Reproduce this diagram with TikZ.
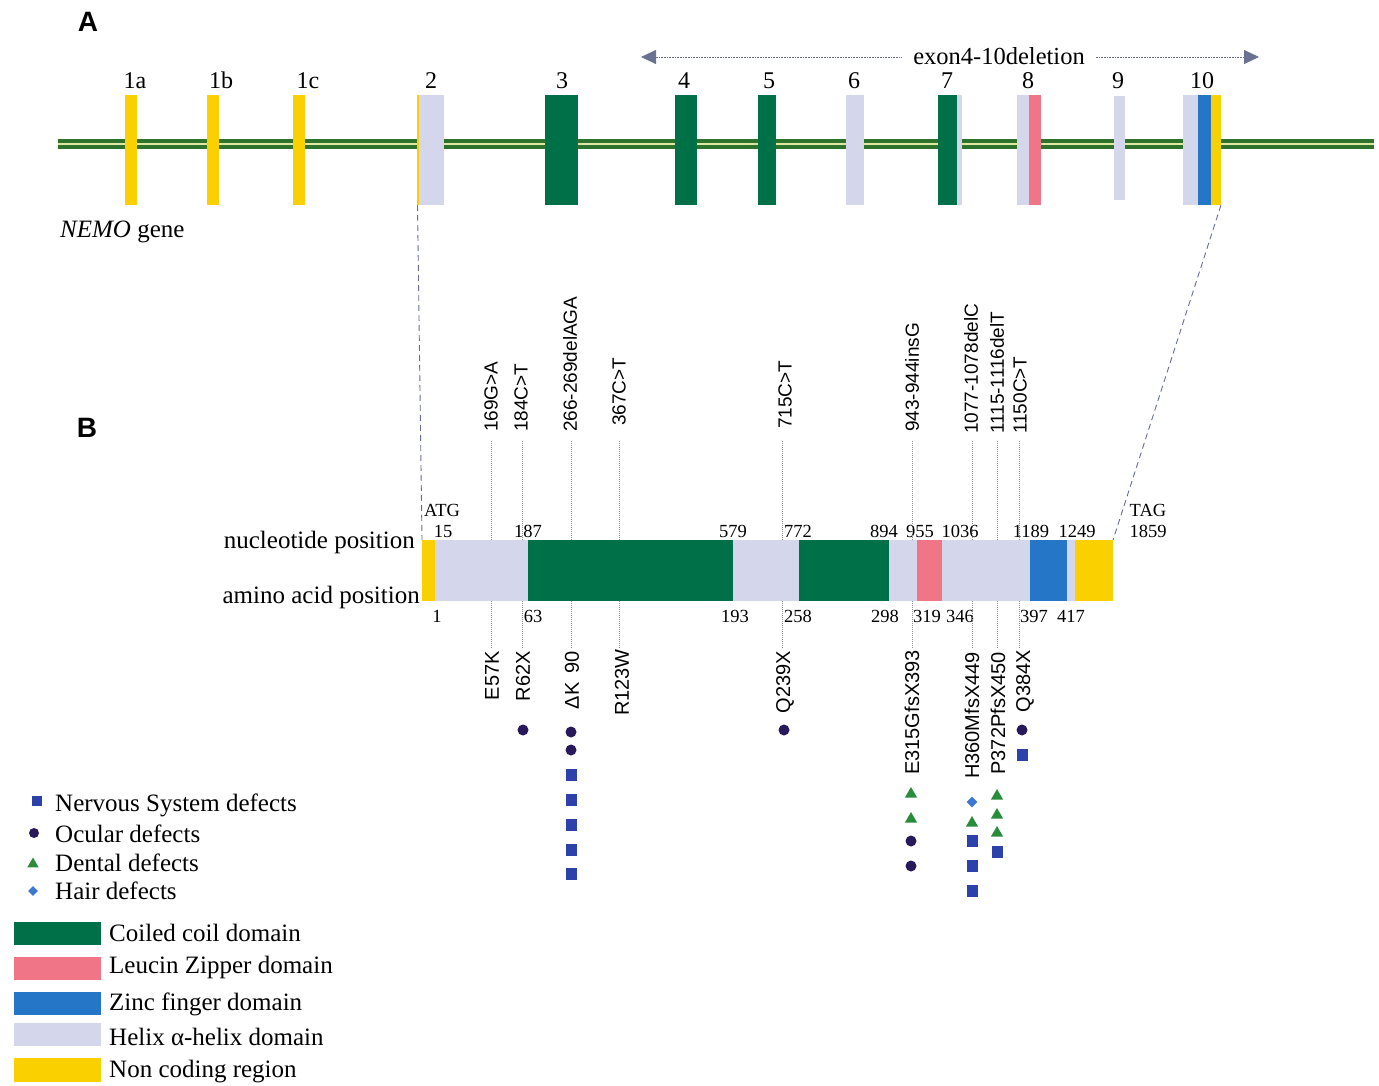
\documentclass[tikz,border=0pt]{standalone}
\usepackage{fontspec}
\setmainfont{Liberation Serif}
\setsansfont{Liberation Sans}
\usetikzlibrary{shapes.geometric,arrows.meta}

\definecolor{ncyellow}{RGB}{250,208,0}
\definecolor{helix}{RGB}{212,214,236}
\definecolor{coil}{RGB}{0,112,72}
\definecolor{zipper}{RGB}{240,118,135}
\definecolor{zinc}{RGB}{38,118,200}
\definecolor{geneline}{RGB}{45,115,45}
\definecolor{genemid}{RGB}{225,232,160}
\definecolor{arrowc}{RGB}{105,115,145}
\definecolor{dashc}{RGB}{100,108,160}
\definecolor{ocular}{RGB}{40,25,90}
\definecolor{nerve}{RGB}{45,65,170}
\definecolor{dental}{RGB}{40,140,60}
\definecolor{hair}{RGB}{60,120,210}
\definecolor{dotc}{RGB}{140,140,140}

\begin{document}
\begin{tikzpicture}[x=1pt,y=-1pt,
  box/.style={fill=#1,draw=none,inner sep=0pt,outer sep=0pt,rectangle},
  exon/.style={box=#1,minimum height=110pt},
  pseg/.style={box=#1,minimum height=61pt},
  serif/.style={font=\fontsize{25}{30}\selectfont,inner sep=0pt},
  exlab/.style={font=\fontsize{24}{28}\selectfont,inner sep=0pt,anchor=base},
  numlbl/.style={font=\fontsize{18.5}{22}\selectfont,inner sep=0pt,anchor=base},
  toplab/.style={font=\sffamily\fontsize{19}{23}\selectfont,rotate=90,anchor=west,inner sep=0pt},
  botlab/.style={font=\sffamily\fontsize{20}{24}\selectfont,rotate=90,anchor=east,inner sep=0pt},
  mutline/.style={draw=dotc,line width=0.6pt,dash pattern=on 1pt off 1pt},
  projline/.style={draw=dashc,line width=0.9pt,dash pattern=on 6pt off 4pt},
  circ/.style={circle,fill=ocular,minimum width=11pt,minimum height=11pt,inner sep=0pt},
  sqr/.style={rectangle,fill=nerve,minimum width=11pt,minimum height=12pt,inner sep=0pt},
  tri/.style={regular polygon,regular polygon sides=3,fill=dental,minimum size=14pt,inner sep=0pt},
  dia/.style={diamond,fill=hair,minimum size=11pt,inner sep=0pt},
  panel/.style={font=\sffamily\bfseries\fontsize{28}{32}\selectfont,inner sep=0pt},
  legtext/.style={font=\fontsize{25}{30}\selectfont,inner sep=0pt,anchor=west}
]
\useasboundingbox (0,0) rectangle (1379,1086);

% panel letters
\node[panel] (pA) at (88,22) {A};
\node[panel] (pB) at (87,428) {B};

% gene line
\coordinate (gl) at (58,144);
\coordinate (gr) at (1374,144);
\draw[geneline,line width=10pt] (gl) -- (gr);
\draw[genemid,line width=1.3pt] (gl) -- (gr);

% exons
\node[exon=ncyellow,minimum width=12pt] (e1a) at (131,150) {};
\node[exon=ncyellow,minimum width=12pt] (e1b) at (213,150) {};
\node[exon=ncyellow,minimum width=12pt] (e1c) at (299,150) {};
\node[exon=ncyellow,minimum width=2pt] (e2y) at (417.5,150) {};
\node[exon=helix,minimum width=25pt] (e2) at (431,150) {};
\node[exon=coil,minimum width=33pt] (e3) at (561,150) {};
\node[exon=coil,minimum width=22pt] (e4) at (685.5,150) {};
\node[exon=coil,minimum width=18pt] (e5) at (767,150) {};
\node[exon=helix,minimum width=18pt] (e6) at (855,150) {};
\node[exon=coil,minimum width=19pt] (e7) at (947,150) {};
\node[exon=helix,minimum width=5pt] (e7b) at (959,150) {};
\node[exon=helix,minimum width=12pt] (e8) at (1023,150) {};
\node[exon=zipper,minimum width=12pt] (e8b) at (1035,150) {};
\node[box=helix,minimum width=11pt,minimum height=104pt] (e9) at (1119,148) {};
\node[exon=helix,minimum width=15pt] (e10) at (1190.5,150) {};
\node[exon=zinc,minimum width=13pt] (e10b) at (1204.5,150) {};
\node[exon=ncyellow,minimum width=10pt] (e10c) at (1216,150) {};

% exon labels
\node[exlab] (l1a) at (135,89) {1a};
\node[exlab] (l1b) at (221,89) {1b};
\node[exlab] (l1c) at (308,89) {1c};
\node[exlab] (l2) at (431,89) {2};
\node[exlab] (l3) at (562,89) {3};
\node[exlab] (l4) at (684,89) {4};
\node[exlab] (l5) at (769,89) {5};
\node[exlab] (l6) at (854,89) {6};
\node[exlab] (l7) at (947,89) {7};
\node[exlab] (l8) at (1028,89) {8};
\node[exlab] (l9) at (1118,89) {9};
\node[exlab] (l10) at (1202,89) {10};

% exon 4-10 deletion arrow
\coordinate (dl) at (641,57);
\coordinate (dr) at (1259,57);
\draw[arrowc,line width=0.8pt,dash pattern=on 0.8pt off 0.8pt,
  {Triangle[width=14pt,length=15pt]}-{Triangle[width=14pt,length=15pt]}] (dl) -- (dr);
\node[serif,fill=white,inner xsep=11pt,inner ysep=2pt,font=\fontsize{24.5}{28}\selectfont] (del) at (999,56) {exon4-10deletion};

\node[serif,anchor=base west] (nemo) at (60,237) {\textit{NEMO} gene};

% protein bar
\node[pseg=ncyellow,minimum width=13pt] (p1) at (428.5,570.5) {};
\node[pseg=helix,minimum width=93pt] (p2) at (481.5,570.5) {};
\node[pseg=coil,minimum width=205pt] (p3) at (630.5,570.5) {};
\node[pseg=helix,minimum width=66pt] (p4) at (766,570.5) {};
\node[pseg=coil,minimum width=90pt] (p5) at (844,570.5) {};
\node[pseg=helix,minimum width=28pt] (p6) at (903,570.5) {};
\node[pseg=zipper,minimum width=25pt] (p7) at (929.5,570.5) {};
\node[pseg=helix,minimum width=88pt] (p8) at (986,570.5) {};
\node[pseg=zinc,minimum width=37pt] (p9) at (1048.5,570.5) {};
\node[pseg=helix,minimum width=8pt] (p10) at (1071,570.5) {};
\node[pseg=ncyellow,minimum width=38pt] (p11) at (1094,570.5) {};
\coordinate (bartop) at (p1.north west);
\coordinate (barbot) at (p1.south west);

% projection lines
\draw[projline] (e2y.south) -- (p1.north west);
\draw[projline] (e10c.south east) -- (p11.north east);

% position labels
\node[serif,anchor=base east] (ntlab) at (415,548) {nucleotide position};
\node[serif,anchor=base east] (aalab) at (420,603) {amino acid position};

\node[numlbl] (atg) at (442,516) {ATG};
\node[numlbl] (tag) at (1148,516) {TAG};
\node[numlbl] (n15) at (443,537) {15};
\node[numlbl] (n187) at (528,537) {187};
\node[numlbl] (n579) at (733,537) {579};
\node[numlbl] (n772) at (798,537) {772};
\node[numlbl] (n894) at (884,537) {894};
\node[numlbl] (n955) at (920,537) {955};
\node[numlbl] (n1036) at (960,537) {1036};
\node[numlbl] (n1189) at (1031,537) {1189};
\node[numlbl] (n1249) at (1077,537) {1249};
\node[numlbl] (n1859) at (1148,537) {1859};

\node[numlbl] (a1) at (437,622) {1};
\node[numlbl] (a63) at (533,622) {63};
\node[numlbl] (a193) at (735,622) {193};
\node[numlbl] (a258) at (798,622) {258};
\node[numlbl] (a298) at (885,622) {298};
\node[numlbl] (a319) at (927,622) {319};
\node[numlbl] (a346) at (960,622) {346};
\node[numlbl] (a397) at (1034,622) {397};
\node[numlbl] (a417) at (1071,622) {417};

% mutations: top (nucleotide) and bottom (protein) labels
\node[toplab] (t1) at (491,432) {169G>A};
\node[toplab] (t2) at (521,432) {184C>T};
\node[toplab] (t3) at (570,432) {266-269delAGA};
\node[toplab] (t4) at (619,426) {367C>T};
\node[toplab] (t5) at (785,429) {715C>T};
\node[toplab] (t6) at (912,432) {943-944insG};
\node[toplab] (t7) at (971,434) {1077-1078delC};
\node[toplab] (t8) at (997,434) {1115-1116delT};
\node[toplab] (t9) at (1020,434) {1150C>T};

\node[botlab] (b1) at (492,651) {E57K};
\node[botlab] (b2) at (523,651) {R62X};
\node[botlab] (b3) at (572,651) {ΔK\hspace{9pt}90};
\node[botlab] (b4) at (622,649) {R123W};
\node[botlab] (b5) at (785,651) {Q239X};
\node[botlab] (b6) at (912,650) {E315GfsX393};
\node[botlab] (b7) at (972,652) {H360MfsX449};
\node[botlab] (b8) at (998,652) {P372PfsX450};
\node[botlab] (b9) at (1025,650) {Q384X};

\foreach \t/\b/\x in {t1/b1/491, t2/b2/522, t3/b3/571, t4/b4/619, t5/b5/782, t6/b6/912, t7/b7/972, t8/b8/997, t9/b9/1019}{
  \draw[mutline] (\x,441) -- (\x,540);
  \draw[mutline] (\x,601) -- (\x,648);
}

% phenotype symbols
\node[circ] (s2a) at (523,730) {};
\node[circ] (s3a) at (571,732) {};
\node[circ] (s3b) at (571,750) {};
\node[sqr] (s3c) at (571,775) {};
\node[sqr] (s3d) at (571,800) {};
\node[sqr] (s3e) at (571,825) {};
\node[sqr] (s3f) at (571,850) {};
\node[sqr] (s3g) at (571,874) {};
\node[circ] (s5a) at (784,730) {};
\node[tri] (s6a) at (911,794) {};
\node[tri] (s6b) at (911,819) {};
\node[circ] (s6c) at (911,841) {};
\node[circ] (s6d) at (911,866) {};
\node[dia] (s7a) at (972,802) {};
\node[tri] (s7b) at (972,823) {};
\node[sqr] (s7c) at (972,841) {};
\node[sqr] (s7d) at (972,866) {};
\node[sqr] (s7e) at (972,891) {};
\node[tri] (s8a) at (997,796) {};
\node[tri] (s8b) at (997,815) {};
\node[tri] (s8c) at (997,833) {};
\node[sqr] (s8d) at (997,852) {};
\node[circ] (s9a) at (1022,730) {};
\node[sqr] (s9b) at (1022,755) {};

% legend: symbols
\node[sqr,minimum width=10pt,minimum height=10pt] (ks) at (37,801) {};
\node[legtext] (kst) at (55,805) {Nervous System defects};
\node[circ,minimum width=10pt,minimum height=10pt] (kc) at (34,833) {};
\node[legtext] (kct) at (55,834) {Ocular defects};
\node[tri,minimum size=13pt] (kt) at (33,864) {};
\node[legtext] (ktt) at (55,863) {Dental defects};
\node[dia,minimum size=10pt] (kd) at (33,891) {};
\node[legtext] (kdt) at (55,891) {Hair defects};

% legend: domains
\node[box=coil,minimum width=87pt,minimum height=23pt,anchor=west] (kb1) at (14,933.5) {};
\node[legtext] (kb1t) at (109,933) {Coiled coil domain};
\node[box=zipper,minimum width=87pt,minimum height=23pt,anchor=west] (kb2) at (14,968) {};
\node[legtext] (kb2t) at (109,967) {Leucin Zipper domain};
\node[box=zinc,minimum width=87pt,minimum height=23pt,anchor=west] (kb3) at (14,1003) {};
\node[legtext] (kb3t) at (109,1004) {Zinc finger domain};
\node[box=helix,minimum width=87pt,minimum height=23pt,anchor=west] (kb4) at (14,1034) {};
\node[legtext] (kb4t) at (109,1037) {Helix α-helix domain};
\node[box=ncyellow,minimum width=87pt,minimum height=24pt,anchor=west] (kb5) at (14,1070) {};
\node[legtext] (kb5t) at (109,1072) {Non coding region};
\end{tikzpicture}
\end{document}
